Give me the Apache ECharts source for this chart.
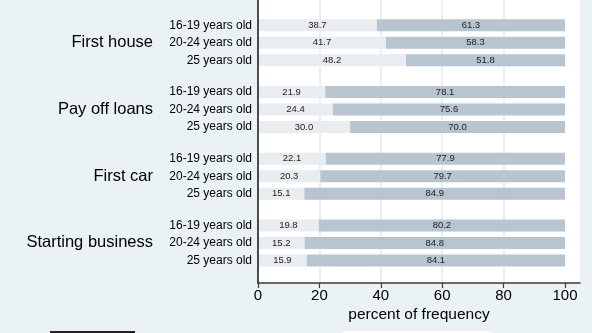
<!DOCTYPE html>
<html>
<head>
<meta charset="utf-8">
<script src="https://cdn.jsdelivr.net/npm/echarts@6/dist/echarts.min.js"></script>
<style>
  html, body { margin: 0; padding: 0; background: #eaf2f3; }
  #chart { width: 592px; height: 333px; }
</style>
</head>
<body>
<div id="chart"></div>
<script>
// Goals, age bands and the split of answers (percent) per age band
const groups = ['First house', 'Pay off loans', 'First car', 'Starting business'];
const ageBands = ['16-19 years old', '20-24 years old', '25 years old'];
const lowShare = [
  [38.7, 41.7, 48.2],
  [21.9, 24.4, 30.0],
  [22.1, 20.3, 15.1],
  [19.8, 15.2, 15.9]
];
const highShare = [
  [61.3, 58.3, 51.8],
  [78.1, 75.6, 70.0],
  [77.9, 79.7, 84.9],
  [80.2, 84.8, 84.1]
];
const xTicks = [0, 20, 40, 60, 80, 100];
const axisTitle = 'percent of frequency';

const FONT = '"Liberation Sans", Arial, sans-serif';
const LIGHT = '#e9edef';
const DARK = '#b8c5d0';
const AXIS = '#3a3a3a';

const chart = echarts.init(document.getElementById('chart'), null, { renderer: 'canvas' });

const plotLeft = 258;
const groupTop = 16.6, groupStep = 66.7, groupHeight = 52.5;

const grids = [
  // white plot region with the axis frame
  { left: plotLeft, right: 12, top: 0, bottom: 50, show: true, backgroundColor: '#ffffff', borderWidth: 0 },
  // value scale 0..100
  { left: plotLeft, right: 27, top: 0, bottom: 50 }
];
const xAxes = [
  {
    gridIndex: 0, type: 'value', min: 0, max: 1, z: 5,
    axisLine: { show: true, lineStyle: { color: AXIS, width: 1.5 } },
    axisTick: { show: false }, axisLabel: { show: false }, splitLine: { show: false },
    name: axisTitle, nameLocation: 'middle', nameGap: 24,
    nameTextStyle: { fontSize: 15.5, color: '#000', fontFamily: FONT }
  },
  {
    gridIndex: 1, type: 'value',
    min: xTicks[0], max: xTicks[xTicks.length - 1], interval: xTicks[1] - xTicks[0],
    axisLine: { show: false },
    axisTick: { show: true, length: 5, lineStyle: { color: AXIS, width: 1.2 } },
    axisLabel: { fontSize: 15, color: '#000', margin: 5, fontFamily: FONT },
    splitLine: { show: true, showMinLine: false, showMaxLine: false, lineStyle: { color: '#e6e9ea', width: 1.5 } }
  }
];
const yAxes = [
  {
    gridIndex: 0, type: 'value', z: 5,
    axisLine: { show: true, lineStyle: { color: AXIS, width: 1.8 } },
    axisTick: { show: false }, axisLabel: { show: false }, splitLine: { show: false }
  },
  { gridIndex: 1, type: 'value', show: false }
];
const series = [];

groups.forEach((g, k) => {
  const gi = k + 2;
  grids.push({ left: plotLeft, right: 27, top: groupTop + groupStep * k, height: groupHeight });
  xAxes.push({ gridIndex: gi, type: 'value', min: xTicks[0], max: xTicks[xTicks.length - 1], show: false });
  yAxes.push({
    gridIndex: gi, type: 'category', data: ageBands, inverse: true,
    axisLine: { show: false }, axisTick: { show: false }, splitLine: { show: false },
    axisLabel: { fontSize: 12, color: '#000', margin: 6, fontFamily: FONT },
    name: g, nameLocation: 'middle', nameRotate: 0, nameGap: 105,
    nameTextStyle: { fontSize: 16.5, color: '#000', fontFamily: FONT }
  });
  const label = {
    show: true, position: 'inside', fontSize: 9.5, color: '#222', fontFamily: FONT,
    formatter: p => Number(p.value).toFixed(1)
  };
  series.push({
    type: 'bar', xAxisIndex: gi, yAxisIndex: gi, stack: 'g' + k, barWidth: 12,
    data: lowShare[k], itemStyle: { color: LIGHT }, label: label, silent: true
  });
  series.push({
    type: 'bar', xAxisIndex: gi, yAxisIndex: gi, stack: 'g' + k, barWidth: 12,
    data: highShare[k], itemStyle: { color: DARK }, label: label, silent: true
  });
});

chart.setOption({
  animation: false,
  backgroundColor: '#eaf2f3',
  textStyle: { fontFamily: FONT },
  grid: grids,
  xAxis: xAxes,
  yAxis: yAxes,
  series: series,
  graphic: [
    // top edges of the key strip, clipped by the bottom of the canvas
    { type: 'rect', shape: { x: 50, y: 331, width: 85, height: 2 }, style: { fill: '#222' }, silent: true },
    { type: 'rect', shape: { x: 343, y: 331, width: 149, height: 2 }, style: { fill: '#ffffff' }, silent: true }
  ]
});
</script>
</body>
</html>
